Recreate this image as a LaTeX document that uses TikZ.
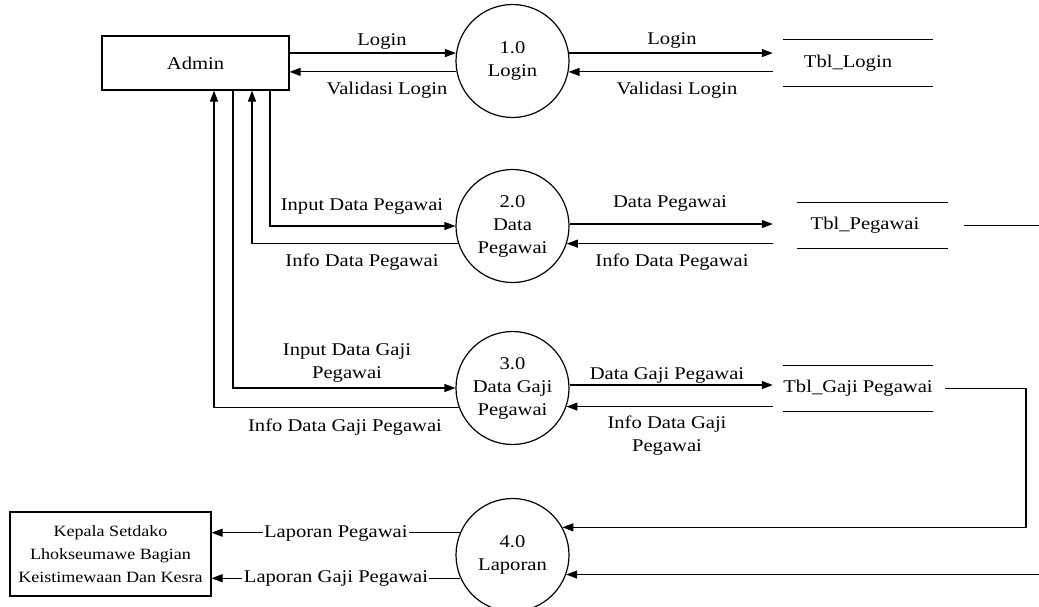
\documentclass[tikz,border=0pt]{standalone}
\usepackage{fontspec}
\setmainfont{Liberation Serif}[FakeStretch=1.15]
\usetikzlibrary{arrows.meta,calc}
\begin{document}
\begin{tikzpicture}[x=1pt,y=-1pt,
  every node/.style={font=\fontsize{17.9}{23}\selectfont},
  line/.style={line width=1.2pt},
  arr/.style={line, -{Triangle[length=11pt,width=8pt]}},
  entity/.style={draw, line width=1.2pt, rectangle, inner sep=0pt},
  proc/.style={draw, line width=1.2pt, circle, minimum size=113pt, inner sep=0pt, align=center},
  store/.style={minimum width=150pt, minimum height=46pt, inner sep=0pt},
  lbl/.style={inner sep=0pt, text height=12.6pt, text depth=3.9pt},
  lbltwo/.style={inner sep=0pt, align=center},
  onl/.style={fill=white, inner xsep=1.5pt, inner ysep=0pt, text height=12.6pt, text depth=3.9pt}
]
\useasboundingbox (0,0) rectangle (1039,606);

% external entities
\node[entity, minimum width=187pt, minimum height=54pt] (admin) at (195.5,63) {Admin};
\node[entity, minimum width=201pt, minimum height=84pt, align=center,
      font=\fontsize{15.7}{23}\selectfont] (kepala) at (110.5,554)
      {Kepala Setdako\\Lhokseumawe Bagian\\Keistimewaan Dan Kesra};

% processes
\node[proc] (p1) at (512.5,61)  {1.0\\Login};
\node[proc] (p2) at (512.5,226) {2.0\\Data\\Pegawai};
\node[proc] (p3) at (512.5,388) {3.0\\Data Gaji\\Pegawai};
\node[proc] (p4) at (512.5,555) {4.0\\Laporan};

% data stores
\node[store, label={[xshift=-10pt]center:Tbl\_Login}] (s1) at (858,63) {};
\node[store, minimum width=151pt, label={[xshift=-7.5pt]center:Tbl\_Pegawai}] (s2) at (872.5,225.5) {};
\node[store, label={center:Tbl\_Gaji Pegawai}] (s3) at (858,388.5) {};
\foreach \s in {s1,s2,s3}
  \draw[line] (\s.north west) -- (\s.north east) (\s.south west) -- (\s.south east);

% helper coordinates
\coordinate (g1) at ([xshift=-10pt]s1.west);
\coordinate (g2) at ([xshift=-24pt]s2.west);
\coordinate (g3) at ([xshift=-10pt]s3.west);
\coordinate (edge) at (1039,0);
\coordinate (rx) at (1026,0);
\coordinate (v1) at (270,0);
\coordinate (v2) at (252,0);
\coordinate (v3) at (233,0);
\coordinate (v4) at (214,0);

% 1.0 Login
\draw[arr] (admin.east |- p1.172) -- (p1.172);
\draw[arr] (p1.191) -- (p1.191 -| admin.east);
\draw[arr] (p1.8) -- (p1.8 -| g1);
\draw[arr] (p1.-11 -| g1) -- (p1.-11);

% 2.0 Data Pegawai
\draw[arr] (admin.south -| v1) |- (p2.180);
\draw[arr] (p2.198) -| (admin.south -| v2);
\draw[arr] (p2.2) -- (p2.2 -| g2);
\draw[arr] (p2.-18 -| g2) -- (p2.-18);

% 3.0 Data Gaji Pegawai
\draw[arr] (admin.south -| v3) |- (p3.180);
\draw[arr] (p3.200) -| (admin.south -| v4);
\draw[arr] (p3.3) -- (p3.3 -| g3);
\draw[arr] (p3.-19 -| g3) -- (p3.-19);

% 4.0 Laporan
\draw[line] ([xshift=16pt]s2.east) -- (s2.east -| edge);
\draw[arr] ([xshift=12pt]s3.east) -| (p4.29 -| rx) -- (p4.29);
\draw[arr] (p4.-20 -| edge) -- (p4.-20);
\draw[arr] (p4.157) -- (p4.157 -| kepala.east) node[onl, midway] (lp1) {Laporan Pegawai};
\draw[arr] (p4.204) -- (p4.204 -| kepala.east) node[onl, midway] (lp2) {Laporan Gaji Pegawai};

% flow labels
\node[lbl] (l1) at (382,41) {Login};
\node[lbl] (l2) at (387,90) {Validasi Login};
\node[lbl] (l3) at (672,40) {Login};
\node[lbl] (l4) at (677,90) {Validasi Login};
\node[lbl] (l5) at (362,206) {Input Data Pegawai};
\node[lbl] (l6) at (362,262) {Info Data Pegawai};
\node[lbl] (l7) at (670,203) {Data Pegawai};
\node[lbl] (l8) at (672,262) {Info Data Pegawai};
\node[lbltwo] (l9) at (347,363) {Input Data Gaji\\Pegawai};
\node[lbl] (l10) at (345,427) {Info Data Gaji Pegawai};
\node[lbl] (l11) at (667,375) {Data Gaji Pegawai};
\node[lbltwo] (l12) at (667,436) {Info Data Gaji\\Pegawai};
\end{tikzpicture}
\end{document}
